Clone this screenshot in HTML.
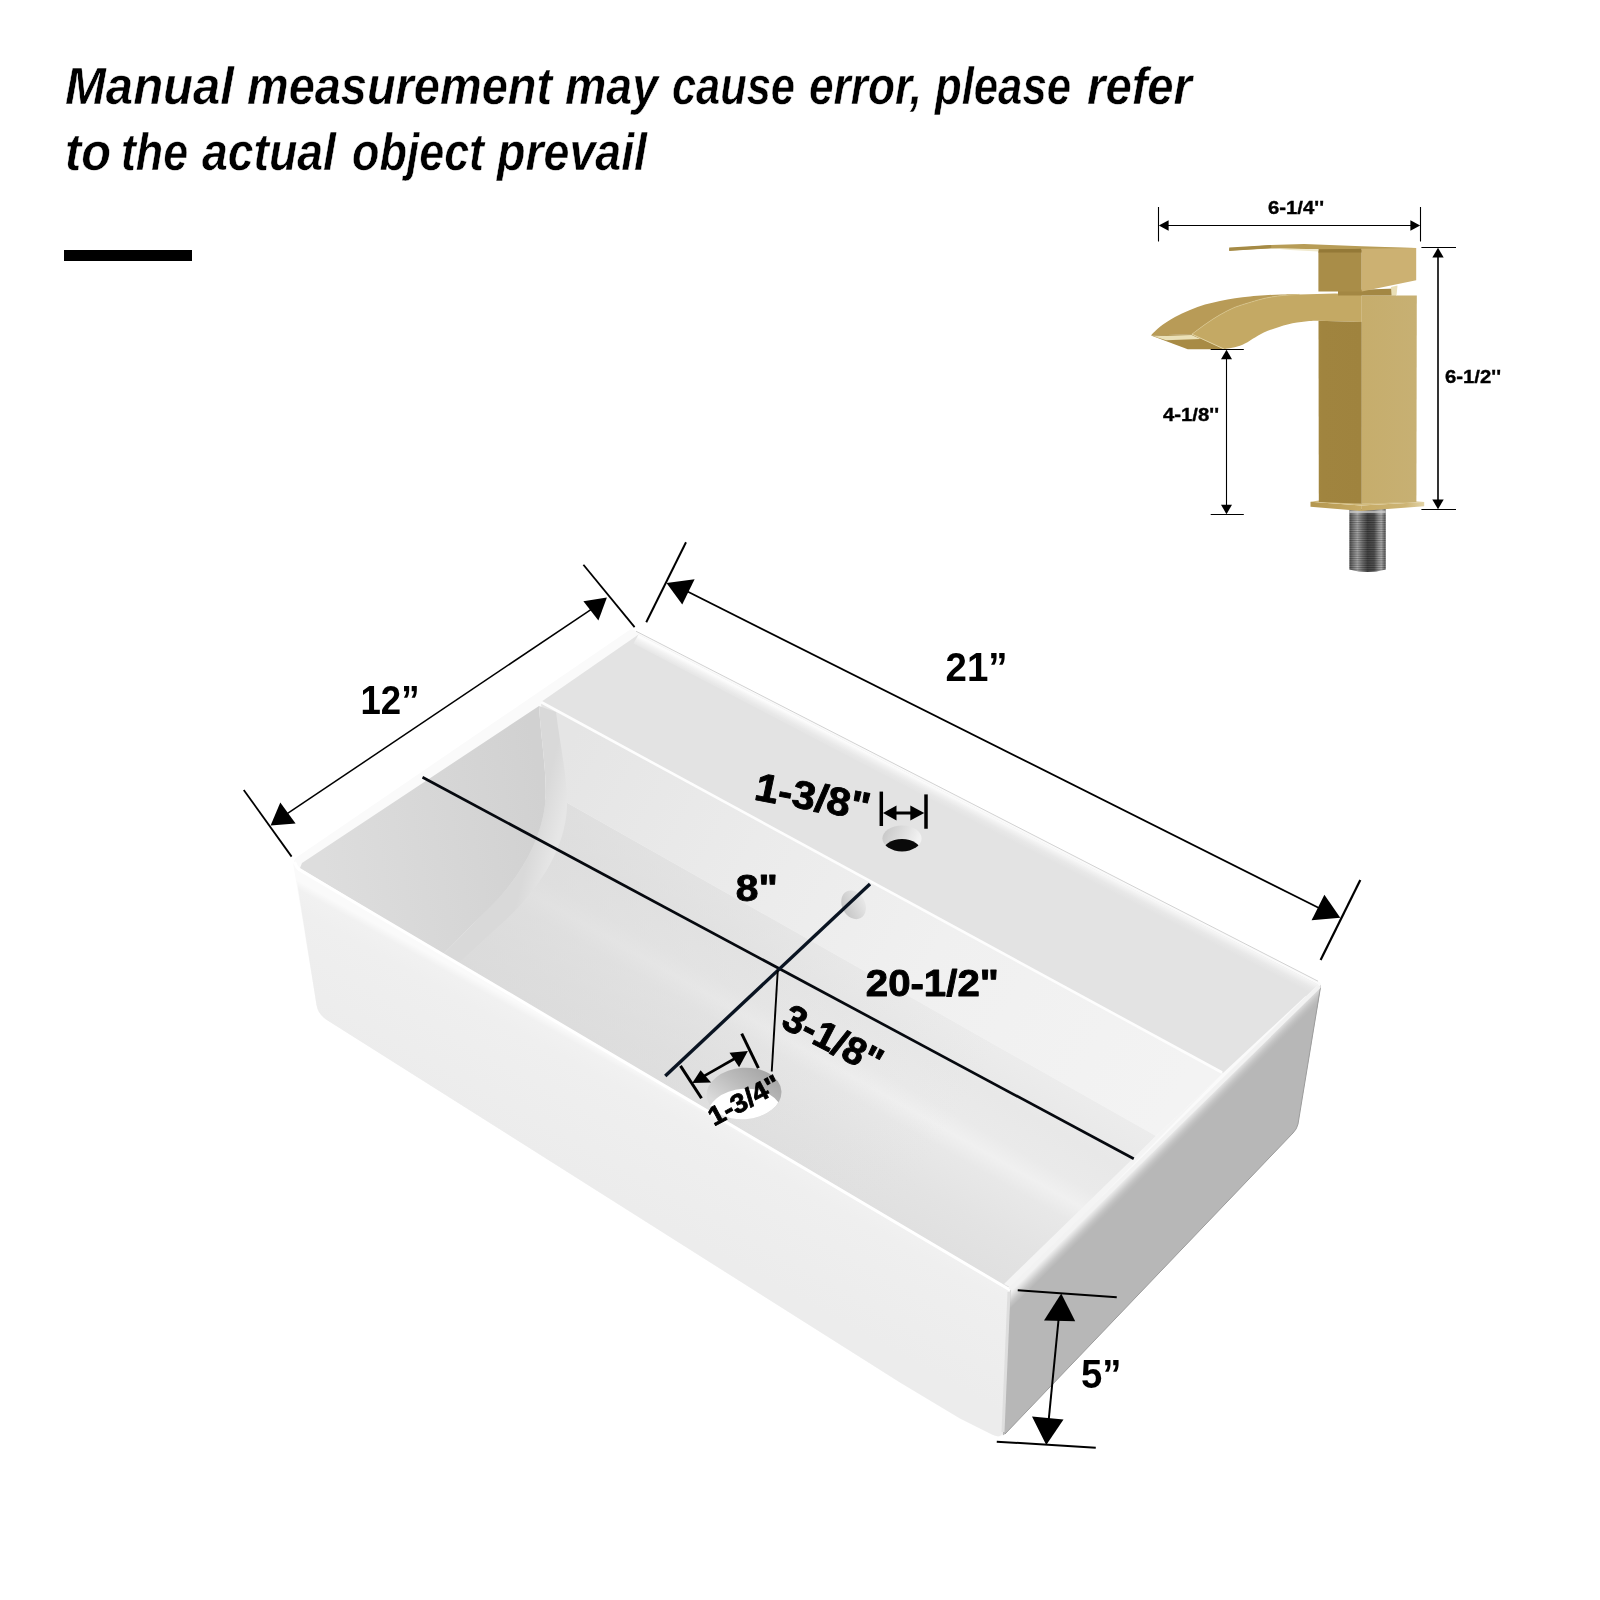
<!DOCTYPE html>
<html lang="en">
<head>
<meta charset="utf-8">
<title>Sink dimensions</title>
<style>
  html, body { margin: 0; padding: 0; background: #ffffff; }
  body { width: 1600px; height: 1600px; overflow: hidden; position: relative; }
  svg { position: absolute; left: 0; top: 0; display: block; will-change: transform; }
  text { font-family: "Liberation Sans", sans-serif; fill: #000; }
  .hd { font-size: 52.6px; font-weight: bold; font-style: italic; stroke: #ffffff; stroke-width: 0.5px; }
  .lb { font-weight: bold; stroke: #000; stroke-width: 0.9px; stroke-linejoin: round; }
  .lbm { font-weight: bold; stroke: none; }
  .lbs { font-weight: bold; stroke: #000; stroke-width: 0.35px; }
  .dim { stroke: #000; fill: none; }
  .ah { fill: #000; stroke: none; }
</style>
</head>
<body>
<svg width="1600" height="1600" viewBox="0 0 1600 1600">
<defs>
  <!-- SINK GRADIENTS -->
  <linearGradient id="gFront" gradientUnits="userSpaceOnUse" x1="700" y1="1104" x2="640" y2="1212">
    <stop offset="0" stop-color="#fafafa"/>
    <stop offset="0.06" stop-color="#f1f1f1"/>
    <stop offset="0.2" stop-color="#efefef"/>
    <stop offset="1" stop-color="#ececec"/>
  </linearGradient>
  <linearGradient id="gRightTop" gradientUnits="userSpaceOnUse" x1="1163.5" y1="1139.5" x2="1172.5" y2="1148.5">
    <stop offset="0" stop-color="#f0f0f0"/>
    <stop offset="0.25" stop-color="#dedede"/>
    <stop offset="0.55" stop-color="#c8c8c8"/>
    <stop offset="0.8" stop-color="#bcbcbc"/>
    <stop offset="1" stop-color="#b7b7b7"/>
  </linearGradient>
  <linearGradient id="gLeftWall" gradientUnits="userSpaceOnUse" x1="320" y1="850" x2="545" y2="810">
    <stop offset="0" stop-color="#dddddd"/>
    <stop offset="1" stop-color="#d1d1d1"/>
  </linearGradient>
  <linearGradient id="gDeckBack" gradientUnits="userSpaceOnUse" x1="980" y1="810.4" x2="974.1" y2="822">
    <stop offset="0" stop-color="#fcfcfc"/>
    <stop offset="0.25" stop-color="#f2f2f2"/>
    <stop offset="0.6" stop-color="#e8e8e8"/>
    <stop offset="1" stop-color="#e3e3e3"/>
  </linearGradient>
  <linearGradient id="gFloorL" gradientUnits="userSpaceOnUse" x1="450" y1="950" x2="900" y2="1215">
    <stop offset="0" stop-color="#d8d8d8" stop-opacity="0.7"/>
    <stop offset="0.5" stop-color="#dadada" stop-opacity="0.4"/>
    <stop offset="1" stop-color="#e0e0e0" stop-opacity="0"/>
  </linearGradient>
  <linearGradient id="gBack" gradientUnits="userSpaceOnUse" x1="560" y1="760" x2="1180" y2="1090">
    <stop offset="0" stop-color="#e5e5e5"/>
    <stop offset="0.3" stop-color="#ebebeb"/>
    <stop offset="0.6" stop-color="#f0f0f0"/>
    <stop offset="1" stop-color="#f3f3f3"/>
  </linearGradient>
  <linearGradient id="gFloor" gradientUnits="userSpaceOnUse" x1="865" y1="970" x2="765" y2="1145.5">
    <stop offset="0" stop-color="#ececec"/>
    <stop offset="0.22" stop-color="#e8e8e8"/>
    <stop offset="0.40" stop-color="#eaeaea"/>
    <stop offset="0.49" stop-color="#f0f0f0"/>
    <stop offset="0.58" stop-color="#e8e8e8"/>
    <stop offset="0.8" stop-color="#e3e3e3"/>
    <stop offset="1" stop-color="#e0e0e0"/>
  </linearGradient>
  <linearGradient id="gFillet" gradientUnits="userSpaceOnUse" x1="543" y1="800" x2="566" y2="806">
    <stop offset="0" stop-color="#d9d9d9"/>
    <stop offset="1" stop-color="#e6e6e6"/>
  </linearGradient>
</defs>

<!-- ===== HEADING ===== -->
<g id="heading" class="hd">
  <text x="65" y="103.5" textLength="169" lengthAdjust="spacingAndGlyphs">Manual</text>
  <text x="247" y="103.5" textLength="305" lengthAdjust="spacingAndGlyphs">measurement</text>
  <text x="565" y="103.5" textLength="93" lengthAdjust="spacingAndGlyphs">may</text>
  <text x="672" y="103.5" textLength="123" lengthAdjust="spacingAndGlyphs">cause</text>
  <text x="809" y="103.5" textLength="113" lengthAdjust="spacingAndGlyphs">error,</text>
  <text x="935" y="103.5" textLength="136" lengthAdjust="spacingAndGlyphs">please</text>
  <text x="1087" y="103.5" textLength="105" lengthAdjust="spacingAndGlyphs">refer</text>
  <text x="65" y="169.5" textLength="46" lengthAdjust="spacingAndGlyphs">to</text>
  <text x="121" y="169.5" textLength="67" lengthAdjust="spacingAndGlyphs">the</text>
  <text x="202" y="169.5" textLength="134" lengthAdjust="spacingAndGlyphs">actual</text>
  <text x="352" y="169.5" textLength="132" lengthAdjust="spacingAndGlyphs">object</text>
  <text x="497" y="169.5" textLength="150" lengthAdjust="spacingAndGlyphs">prevail</text>
</g>
<rect id="bar" x="64" y="250" width="128" height="11" fill="#000"/>

<!-- ===== SINK ===== -->
<g id="sink">
  <!-- outer silhouette base -->
  <path d="M634 630 L1318 981 Q1322 983 1321 988 L1298 1124 Q1297 1129 1293 1133 L1005 1434 Q1000 1439 992 1434.5 L960 1418.5 L900 1382.5 L326 1019.5 Q318 1014 316.5 1005 L293.5 866 Q293 860 297 857 L628 631 Q631 629 634 630 Z" fill="#fafafa"/>
  <!-- front face -->
  <path d="M294 863 Q296 867 299 869.5 L1010 1290 L1003 1432 Q1001 1439 992 1434.5 L960 1418.5 L900 1382.5 L326 1019.5 Q318 1014 316.5 1005 Z" fill="url(#gFront)"/>
  <!-- right face -->
  <path d="M1010 1290 L1321 985 L1298 1124 Q1297 1129 1293 1133 L1005 1434 Q1002 1437 1003 1432 Z" fill="#b7b7b7"/>
  <!-- deck -->
  <path d="M638.5 634.5 L1318 984.5 L1223 1073 L541 702 Z" fill="#e3e3e3"/>
  <!-- deck back-edge highlight -->
  <path d="M638.5 634.5 L1318 984.5 L1306 996.5 L633.5 643.5 Z" fill="url(#gDeckBack)"/>
  <path d="M636 631.2 L1318 981.2" fill="none" stroke="#d2d2d2" stroke-width="1"/>
  <!-- back wall -->
  <path d="M541 702 L1223 1073 L1156 1136 L548 792 L545 760 Z" fill="url(#gBack)"/>
  <!-- floor -->
  <path d="M548 792 L1156 1136 L1008 1287.7 L443 954.6 Q520 885 548 792 Z" fill="url(#gFloor)"/>
  <path d="M548 792 L1156 1136 L1008 1287.7 L443 954.6 Q520 885 548 792 Z" fill="url(#gFloorL)"/>
  <!-- inner right wall (light band) -->
  <path d="M1223 1073 L1012 1288 L1004 1284 L1156 1136 Z" fill="#f4f4f4"/>
  <!-- inner left wall -->
  <path d="M300 868 L302 863 L539 706 C541 740 548 780 545 805 C541 840 520 880 483 914 L443 954.6 Z" fill="url(#gLeftWall)"/>
  <!-- fillet between left wall and back wall / floor -->
  <path d="M539 706 C541 740 548 780 545 805 C541 840 520 880 483 914 L443 954.6 L458 963.5 L500 925 C540 890 565 848 567 808 C568 780 560 745 556 712 Z" fill="url(#gFillet)"/>
  <!-- right face top-edge soft transition -->
  <clipPath id="cpRightFace"><path d="M1010 1290 L1321 985 L1298 1124 Q1297 1129 1293 1133 L1005 1434 Q1002 1437 1003 1432 Z"/></clipPath>
  <path d="M1010.5 1289.5 L1322 984 L1322 1004 L1010 1308 Z" fill="url(#gRightTop)" clip-path="url(#cpRightFace)"/>
  <path d="M1320.5 987 L1298 1124 Q1297 1129 1293 1133 L1005 1434" fill="none" stroke="#9c9c9c" stroke-width="1"/>
  <!-- thin highlight lines on edges -->
  <path d="M294.5 862 Q296.5 867.5 299.5 869.8 L1010 1290" stroke="#ffffff" stroke-width="3" fill="none"/>
  <path d="M1010 1289.5 L1319.5 986" stroke="#f2f2f2" stroke-width="4" fill="none"/>
  <path d="M1009 1292 L1003 1432" stroke="#dedede" stroke-width="3" fill="none"/>
  <path d="M541 702 L1222 1072.5" stroke="#fdfdfd" stroke-width="2.6" fill="none"/>
</g>

<!-- ===== SINK HOLES ===== -->
<g id="holes">
  <clipPath id="cpFaucetHole"><ellipse cx="902" cy="838.4" rx="19.6" ry="13"/></clipPath>
  <linearGradient id="gHole1" x1="0" y1="0" x2="1" y2="0.3">
    <stop offset="0" stop-color="#c4c4c4"/><stop offset="1" stop-color="#f2f2f2"/>
  </linearGradient>
  <ellipse cx="902" cy="838.4" rx="19.6" ry="13" fill="url(#gHole1)"/>
  <ellipse cx="902" cy="852.5" rx="19.6" ry="13.5" fill="#0a0a0a" clip-path="url(#cpFaucetHole)"/>
  <!-- overflow -->
  <linearGradient id="gHole2" x1="0" y1="0" x2="1" y2="0">
    <stop offset="0" stop-color="#c6c6c6"/><stop offset="1" stop-color="#e8e8e8"/>
  </linearGradient>
  <ellipse cx="853.6" cy="904.8" rx="11.5" ry="15" fill="url(#gHole2)" transform="rotate(-28 853.6 904.8)"/>
  <!-- drain -->
  <clipPath id="cpDrain"><ellipse cx="744" cy="1093.5" rx="37.5" ry="25.8" transform="rotate(-4 744 1093.5)"/></clipPath>
  <linearGradient id="gHole3" gradientUnits="userSpaceOnUse" x1="760" y1="1066" x2="725" y2="1108">
    <stop offset="0" stop-color="#a6a6a6"/><stop offset="0.5" stop-color="#bdbdbd"/><stop offset="1" stop-color="#dadada"/>
  </linearGradient>
  <ellipse cx="744" cy="1093.5" rx="37.5" ry="25.8" fill="url(#gHole3)" transform="rotate(-4 744 1093.5)"/>
  <g clip-path="url(#cpDrain)"><ellipse cx="744.5" cy="1114.5" rx="37.5" ry="25.8" fill="#ffffff" transform="rotate(-4 744.5 1114.5)"/></g>
</g>

<!-- ===== SINK DIMENSION LINES ===== -->
<g id="sinkdims">
  <!-- 12" -->
  <line class="dim" x1="243.75" y1="790" x2="291.6" y2="856.6" stroke-width="1.8"/>
  <line class="dim" x1="583.4" y1="564.7" x2="634.6" y2="627.1" stroke-width="1.8"/>
  <line class="dim" x1="285" y1="815.2" x2="592" y2="608.8" stroke-width="1.5"/>
  <polygon class="ah" points="270.6,825.6 280.3,802.5 295.6,823.4"/>
  <polygon class="ah" points="606.9,597.5 583.4,601.25 598.4,620.6"/>
  <!-- 21" -->
  <line class="dim" x1="686" y1="542.2" x2="646.25" y2="622.25" stroke-width="2"/>
  <line class="dim" x1="1360.3" y1="880" x2="1320.6" y2="960" stroke-width="2.2"/>
  <line class="dim" x1="686" y1="590.8" x2="1320" y2="908.5" stroke-width="1.8"/>
  <polygon class="ah" points="666.5,583 694.6,579.3 682.25,604.6"/>
  <polygon class="ah" points="1340.3,917.8 1324.4,894.7 1311.6,920.3"/>
  <!-- 5" -->
  <line class="dim" x1="1017.75" y1="1290.2" x2="1116.75" y2="1297.25" stroke-width="2"/>
  <line class="dim" x1="996.75" y1="1441.7" x2="1095.75" y2="1447.7" stroke-width="2"/>
  <line class="dim" x1="1059" y1="1315" x2="1048.5" y2="1422" stroke-width="2"/>
  <polygon class="ah" points="1061.25,1293.5 1044,1320.5 1075.2,1321.25"/>
  <polygon class="ah" points="1046.25,1445 1032,1416.5 1063.5,1419.5"/>
  <!-- 20-1/2" long line -->
  <line x1="422.5" y1="777.25" x2="1133.75" y2="1158.75" stroke="#06090f" stroke-width="2.7"/>
  <!-- 8" cross line -->
  <line x1="870" y1="884" x2="665.25" y2="1076" stroke="#0a1422" stroke-width="3.4"/>
  <!-- 3-1/8" thin line -->
  <line x1="777.75" y1="970.5" x2="771.75" y2="1071.5" stroke="#000" stroke-width="1.9"/>
  <!-- 1-3/8" -->
  <line class="dim" x1="881.3" y1="791.6" x2="881.3" y2="826" stroke-width="3.5"/>
  <line class="dim" x1="926" y1="794.4" x2="926" y2="828.75" stroke-width="3.5"/>
  <line class="dim" x1="890" y1="813" x2="917" y2="813" stroke-width="3"/>
  <polygon class="ah" points="883,813 896.5,805.6 896.5,820.4"/>
  <polygon class="ah" points="924.3,813 910.3,805.6 910.3,820.4"/>
  <!-- 1-3/4" -->
  <line class="dim" x1="680.5" y1="1065.9" x2="701.5" y2="1098.3" stroke-width="3"/>
  <line class="dim" x1="741.7" y1="1033.6" x2="758.4" y2="1068.1" stroke-width="3"/>
  <line class="dim" x1="700" y1="1078.4" x2="741" y2="1055" stroke-width="2.6"/>
  <polygon class="ah" points="692.3,1083 700.6,1070.3 711.1,1082.5"/>
  <polygon class="ah" points="747.9,1051 729.5,1052.8 739.1,1067.2"/>
</g>

<!-- ===== SINK LABELS ===== -->
<g id="sinklabels" class="lb">
  <text class="lbm" x="360.5" y="713.8" font-size="40.5" textLength="59" lengthAdjust="spacingAndGlyphs">12”</text>
  <text class="lbm" x="945.5" y="681" font-size="40" textLength="62" lengthAdjust="spacingAndGlyphs">21”</text>
  <text class="lbm" x="1081" y="1388.3" font-size="40.5" textLength="40.5" lengthAdjust="spacingAndGlyphs">5”</text>
  <text x="735.8" y="901.3" font-size="37.5" textLength="42" lengthAdjust="spacingAndGlyphs">8"</text>
  <text x="865.8" y="996.3" font-size="37" textLength="133" lengthAdjust="spacingAndGlyphs">20-1/2"</text>
  <text transform="matrix(1 0.185 0 1 755 799.8)" font-size="40" font-style="italic" textLength="114.5" lengthAdjust="spacingAndGlyphs">1-3/8"</text>
  <text transform="translate(779.5 1026.5) rotate(27.5)" font-size="38.5" textLength="107" lengthAdjust="spacingAndGlyphs">3-1/8"</text>
  <text transform="translate(714 1126.5) rotate(-28)" font-size="26.5" stroke-width="0.8" textLength="78" lengthAdjust="spacingAndGlyphs">1-3/4"</text>
</g>

<!-- ===== FAUCET ===== -->
<g id="faucet">
  <linearGradient id="gShank" x1="0" y1="0" x2="1" y2="0">
    <stop offset="0" stop-color="#4c4c4c"/><stop offset="0.08" stop-color="#6e6e6e"/>
    <stop offset="0.22" stop-color="#a4a4a4"/><stop offset="0.36" stop-color="#6c6c6c"/>
    <stop offset="0.5" stop-color="#3e3e3e"/><stop offset="0.68" stop-color="#4a4a4a"/>
    <stop offset="0.8" stop-color="#8e8e8e"/><stop offset="0.88" stop-color="#aaaaaa"/>
    <stop offset="0.96" stop-color="#707070"/><stop offset="1" stop-color="#565656"/>
  </linearGradient>
  <pattern id="pThread" width="4" height="1.8" patternUnits="userSpaceOnUse">
    <rect width="4" height="0.8" fill="#000" fill-opacity="0.28"/>
    <rect y="0.9" width="4" height="0.5" fill="#fff" fill-opacity="0.12"/>
  </pattern>
  <linearGradient id="gBodyR" x1="0" y1="0" x2="1" y2="0">
    <stop offset="0" stop-color="#c6ad6c"/><stop offset="1" stop-color="#c7b073"/>
  </linearGradient>
  <linearGradient id="gBodyF" x1="0" y1="0" x2="1" y2="0">
    <stop offset="0" stop-color="#a2863f"/><stop offset="0.08" stop-color="#a0843f"/><stop offset="1" stop-color="#9f833e"/>
  </linearGradient>
  <linearGradient id="gPlateR" x1="0" y1="0" x2="1" y2="0">
    <stop offset="0" stop-color="#c6aa64"/><stop offset="0.7" stop-color="#cdb474"/><stop offset="1" stop-color="#e2d3a6"/>
  </linearGradient>
  <linearGradient id="gPlateL" x1="0" y1="0" x2="1" y2="0">
    <stop offset="0" stop-color="#b4974f"/><stop offset="1" stop-color="#c7ab65"/>
  </linearGradient>
  <!-- threaded shank -->
  <path d="M1349.4 509 L1385.7 509 L1385.7 569.5 Q1367.5 574.5 1349.4 569.5 Z" fill="url(#gShank)"/>
  <path d="M1349.4 514 L1385.7 514 L1385.7 569.5 Q1367.5 574.5 1349.4 569.5 Z" fill="url(#pThread)"/>
  <rect x="1349.4" y="510.5" width="36.3" height="2.6" fill="#d0d0d0" fill-opacity="0.75"/>
  <!-- base plate -->
  <path d="M1310.5 501.8 L1361.2 505.6 L1361.2 511 L1310.5 506.7 Z" fill="url(#gPlateL)"/>
  <path d="M1361.2 505.6 L1424.2 502 L1424.2 506.2 L1361.2 511 Z" fill="url(#gPlateR)"/>
  <path d="M1310.5 501.8 L1319 500.5 L1361.7 503.6 L1416.4 501.5 L1424.2 502 L1361.2 505.6 Z" fill="#d3bd80"/>
  <!-- body right face -->
  <path d="M1361.6 295.4 L1416.8 295.6 L1416.4 502 L1361.7 503.8 Z" fill="url(#gBodyR)"/>
  <!-- spout side face (light) incl. top band of body -->
  <path d="M1191.9 334.2 C1194.1 332.6 1200.3 327.8 1205.0 324.5 C1209.7 321.2 1215.0 317.6 1220.0 314.8 C1225.0 311.9 1230.0 309.3 1235.0 307.2 C1240.0 305.2 1245.0 303.9 1250.0 302.4 C1255.0 300.9 1259.7 299.4 1265.0 298.2 C1270.3 297.1 1275.9 296.2 1281.6 295.6 C1287.3 295.0 1296.4 294.6 1299.4 294.4 L1335 293.6 L1361.7 294.6 L1361.7 322 L1318.6 320.8 C1316.4 320.9 1310.5 320.8 1305.3 321.4 C1300.1 322.0 1294.4 322.5 1287.5 324.4 C1280.6 326.2 1271.3 329.1 1263.8 332.5 C1256.3 335.9 1249.0 342.0 1242.5 344.8 C1236.0 347.5 1227.5 348.5 1224.5 349.2 Z" fill="#c4a964"/>
  <!-- spout top face (crescent, slightly darker) -->
  <path d="M1151.0 335.4 C1152.5 334.0 1156.0 329.8 1160.0 326.8 C1164.0 323.7 1170.0 319.8 1175.0 317.0 C1180.0 314.2 1185.0 312.0 1190.0 309.9 C1195.0 307.8 1200.0 306.1 1205.0 304.6 C1210.0 303.1 1215.0 302.0 1220.0 300.9 C1225.0 299.8 1230.0 299.0 1235.0 298.2 C1240.0 297.5 1245.0 296.9 1250.0 296.4 C1255.0 295.9 1259.7 295.6 1265.0 295.2 C1270.3 294.9 1275.9 294.7 1281.6 294.5 C1287.3 294.3 1290.5 294.0 1299.4 293.9 L1299.4 294.4 C1296.4 294.6 1287.3 295.0 1281.6 295.6 C1275.9 296.2 1270.3 297.1 1265.0 298.2 C1259.7 299.4 1255.0 300.9 1250.0 302.4 C1245.0 303.9 1240.0 305.2 1235.0 307.2 C1230.0 309.3 1225.0 311.9 1220.0 314.8 C1215.0 317.6 1209.7 321.2 1205.0 324.5 C1200.3 327.8 1194.1 332.6 1191.9 334.2 Z" fill="#b89b57"/>
  <path d="M1191.9 334.2 C1194.1 332.6 1200.3 327.8 1205.0 324.5 C1209.7 321.2 1215.0 317.6 1220.0 314.8 C1225.0 311.9 1230.0 309.3 1235.0 307.2 C1240.0 305.2 1245.0 303.9 1250.0 302.4 C1255.0 300.9 1259.7 299.4 1265.0 298.2 C1270.3 297.1 1275.9 296.2 1281.6 295.6 C1287.3 295.0 1296.4 294.6 1299.4 294.4" fill="none" stroke="#d9c68c" stroke-width="0.7"/>
  <!-- body front face (dark) -->
  <path d="M1318.5 320.8 L1361.7 322 L1361.7 503.8 L1318.8 502 Z" fill="url(#gBodyF)"/>
  <!-- spout outlet -->
  <path d="M1151 335.4 L1191.9 334.2 L1224.5 349.25 L1187.75 349.25 Z" fill="#a88b45"/>
  <path d="M1153.5 336.3 L1191.6 334.9 L1200.5 339.1 L1166 340.3 Z" fill="#ebe1b8"/>
  <path d="M1191.9 334.2 L1224.5 349.25" fill="none" stroke="#e3d5a4" stroke-width="0.9"/>
  <!-- neck -->
  <path d="M1338 290.5 L1396 288.6 L1396 295.6 L1338 295.6 Z" fill="#a38743"/>
  <path d="M1391 287 L1397.5 285.5 L1396.5 295.6 L1391.5 295.6 Z" fill="#e9deb6"/>
  <!-- handle block -->
  <path d="M1318.4 250 L1361.7 250 L1361.7 291.4 L1318.4 291.4 Z" fill="#a98d48"/>
  <path d="M1318.4 249 L1361.7 248 L1361.7 252.6 L1318.4 252.6 Z" fill="#947937"/>
  <path d="M1361.7 247.5 L1416.2 248.1 L1416.2 280.3 L1361.7 291.4 Z" fill="#ccb172"/>
  <!-- lever plate -->
  <path d="M1229.2 248.4 L1271 244.9 L1304 244 L1361.7 246.3 L1416.2 248.1 L1361.7 248.7 L1318.4 249.3 L1271 248.6 L1229.2 250.6 Z" fill="#b79c56"/>
  <path d="M1229.2 247.6 L1271.2 245 L1271.2 247.9 L1229.2 250.9 Z" fill="#a58a45"/>
  <path d="M1271.2 248.3 L1318.4 249.3 L1318.4 251.6 L1290 249.9 Z" fill="#f0e9cc"/>
</g>

<!-- ===== FAUCET DIMS ===== -->
<g id="faucetdims">
  <!-- 6-1/4 top -->
  <line class="dim" x1="1158.5" y1="207" x2="1158.5" y2="241.5" stroke-width="1.1"/>
  <line class="dim" x1="1420.5" y1="207" x2="1420.5" y2="241.5" stroke-width="1.1"/>
  <line class="dim" x1="1163" y1="225.5" x2="1415" y2="225.5" stroke-width="1.1"/>
  <polygon class="ah" points="1158.8,225.5 1168.6,220.3 1168.6,230.7"/>
  <polygon class="ah" points="1420.2,225.5 1410.4,220.3 1410.4,230.7"/>
  <!-- 6-1/2 right -->
  <line class="dim" x1="1421.4" y1="247.5" x2="1456" y2="247.5" stroke-width="1.1"/>
  <line class="dim" x1="1421.4" y1="509.5" x2="1456" y2="509.5" stroke-width="1.1"/>
  <line class="dim" x1="1438" y1="254" x2="1438" y2="503" stroke-width="1.6"/>
  <polygon class="ah" points="1438,247.8 1432.3,257.6 1443.7,257.6"/>
  <polygon class="ah" points="1438,509.2 1432.3,499.4 1443.7,499.4"/>
  <!-- 4-1/8 left -->
  <line class="dim" x1="1210.7" y1="349.5" x2="1243.8" y2="349.5" stroke-width="1.1"/>
  <line class="dim" x1="1210.7" y1="514.5" x2="1243.8" y2="514.5" stroke-width="1.1"/>
  <line class="dim" x1="1226.5" y1="356" x2="1226.5" y2="507" stroke-width="1.1"/>
  <polygon class="ah" points="1226.5,349.8 1221,359.3 1232,359.3"/>
  <polygon class="ah" points="1226.5,514.2 1221,504.7 1232,504.7"/>
</g>
<g id="faucetlabels" class="lbs">
  <text x="1268" y="213.9" font-size="17.5" textLength="56" lengthAdjust="spacingAndGlyphs">6-1/4''</text>
  <text x="1445" y="382.6" font-size="17.5" textLength="56" lengthAdjust="spacingAndGlyphs">6-1/2''</text>
  <text x="1163" y="420.8" font-size="17.5" textLength="56" lengthAdjust="spacingAndGlyphs">4-1/8''</text>
</g>

</svg>
</body>
</html>
